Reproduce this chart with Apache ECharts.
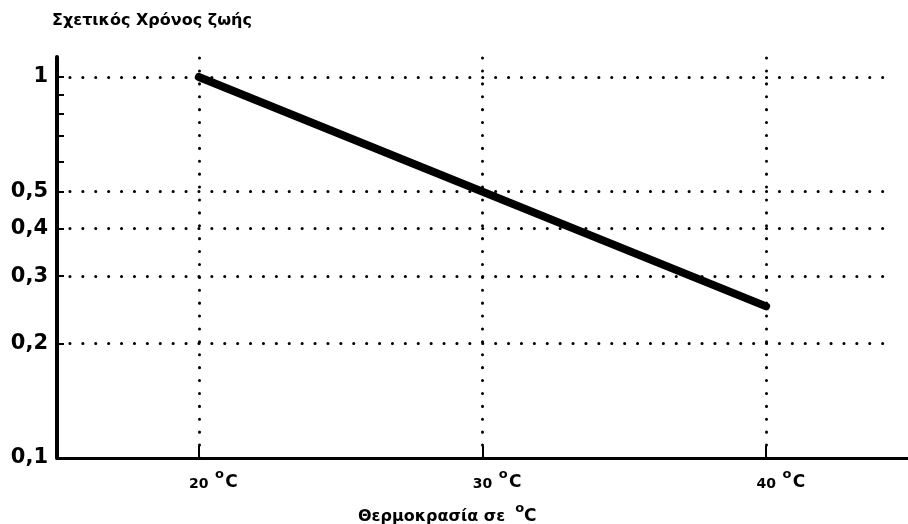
<!DOCTYPE html>
<html>
<head>
<meta charset="utf-8">
<script src="https://cdn.jsdelivr.net/npm/echarts@6/dist/echarts.min.js"></script>
<style>
html,body{margin:0;padding:0;background:#fff;}
#chart{width:908px;height:524px;}
</style>
</head>
<body>
<div id="chart"></div>
<script>
// ---- data ----
const temperatures = [20, 40];
const relativeLife = [1, 0.25];
const xTickValues = [20, 30, 40];
const yLabelValues = [0.1, 0.2, 0.3, 0.4, 0.5, 1];
const yTickValues = [0.2, 0.3, 0.4, 0.5, 0.6, 0.7, 0.8, 0.9, 1];
const hGridValues = [0.2, 0.3, 0.4, 0.5, 1];
const vGridValues = [20, 30, 40];
const xRange = [15, 45];
const yRange = [0.1, 1.128];
const gridEndX = 44.2;
const titleText = 'Σχετικός Χρόνος ζωής';
const xNameText = 'Θερμοκρασία σε';

const FONT = 'DejaVu Sans';
const chart = echarts.init(document.getElementById('chart'));

const dotStyle = { color: '#000', width: 3, type: [0.1, 12.8], cap: 'round', opacity: 1 };
const markData = [];
hGridValues.forEach(v => markData.push([{ coord: [xRange[0], v] }, { coord: [gridEndX, v] }]));
vGridValues.forEach(v => markData.push([{ coord: [v, yRange[0]] }, { coord: [v, yRange[1]] }]));

chart.setOption({
  backgroundColor: '#fff',
  animation: false,
  title: [
    {
      text: titleText, left: 52, top: 13, padding: 0,
      textStyle: { fontFamily: FONT, fontSize: 16, fontWeight: 'bold', color: '#000' }
    },
    {
      text: '{m|' + xNameText + '}{g| }{o|o}{c|C}', left: 358, top: 502, padding: 0,
      textStyle: {
        fontFamily: FONT, color: '#000',
        rich: {
          m: { fontFamily: FONT, fontSize: 16, fontWeight: 'bold', lineHeight: 17, verticalAlign: 'bottom', color: '#000' },
          g: { width: 10, height: 23, lineHeight: 23 },
          o: { fontFamily: FONT, fontSize: 13, fontWeight: 'bold', lineHeight: 13, verticalAlign: 'top', color: '#000' },
          c: { fontFamily: FONT, fontSize: 17, fontWeight: 'bold', lineHeight: 18, verticalAlign: 'bottom', color: '#000' }
        }
      }
    }
  ],
  grid: { left: 57, top: 57, width: 853, height: 401 },
  xAxis: {
    type: 'value', min: xRange[0], max: xRange[1],
    axisLine: { show: true, lineStyle: { color: '#000', width: 3 } },
    axisTick: { show: true, inside: true, length: 12, customValues: xTickValues, lineStyle: { color: '#000', width: 2 } },
    splitLine: { show: false },
    axisLabel: {
      customValues: xTickValues, margin: 10, color: '#000',
      formatter: v => '{sp| }{n|' + v + '}{g| }{o|o}{c|C}',
      rich: {
        sp: { width: 30, height: 23, lineHeight: 23 },
        n: { fontFamily: FONT, fontSize: 14, fontWeight: 'bold', lineHeight: 15, verticalAlign: 'bottom', color: '#000' },
        g: { width: 6 },
        o: { fontFamily: FONT, fontSize: 13, fontWeight: 'bold', lineHeight: 13, verticalAlign: 'top', width: 10, color: '#000' },
        c: { fontFamily: FONT, fontSize: 17, fontWeight: 'bold', lineHeight: 18, verticalAlign: 'bottom', width: 14, color: '#000' }
      }
    }
  },
  yAxis: {
    type: 'log', logBase: 10, min: yRange[0], max: yRange[1],
    axisLine: { show: true, lineStyle: { color: '#000', width: 4 } },
    axisTick: { show: true, inside: true, length: 7, customValues: yTickValues, lineStyle: { color: '#000', width: 2 } },
    minorTick: { show: false },
    splitLine: { show: false },
    axisLabel: {
      customValues: yLabelValues, margin: 9, color: '#000',
      fontFamily: FONT, fontSize: 21, fontWeight: 'bold',
      formatter: v => String(v).replace('.', ',')
    }
  },
  series: [
    {
      type: 'line', data: [], z: 1, silent: true,
      markLine: {
        silent: true, symbol: ['none', 'none'], animation: false,
        label: { show: false },
        lineStyle: dotStyle,
        emphasis: { disabled: true },
        data: markData
      }
    },
    {
      type: 'line', z: 3, silent: true,
      data: temperatures.map((t, i) => [t, relativeLife[i]]),
      symbol: 'none',
      lineStyle: { color: '#000', width: 8, cap: 'round' }
    }
  ]
});
</script>
</body>
</html>
